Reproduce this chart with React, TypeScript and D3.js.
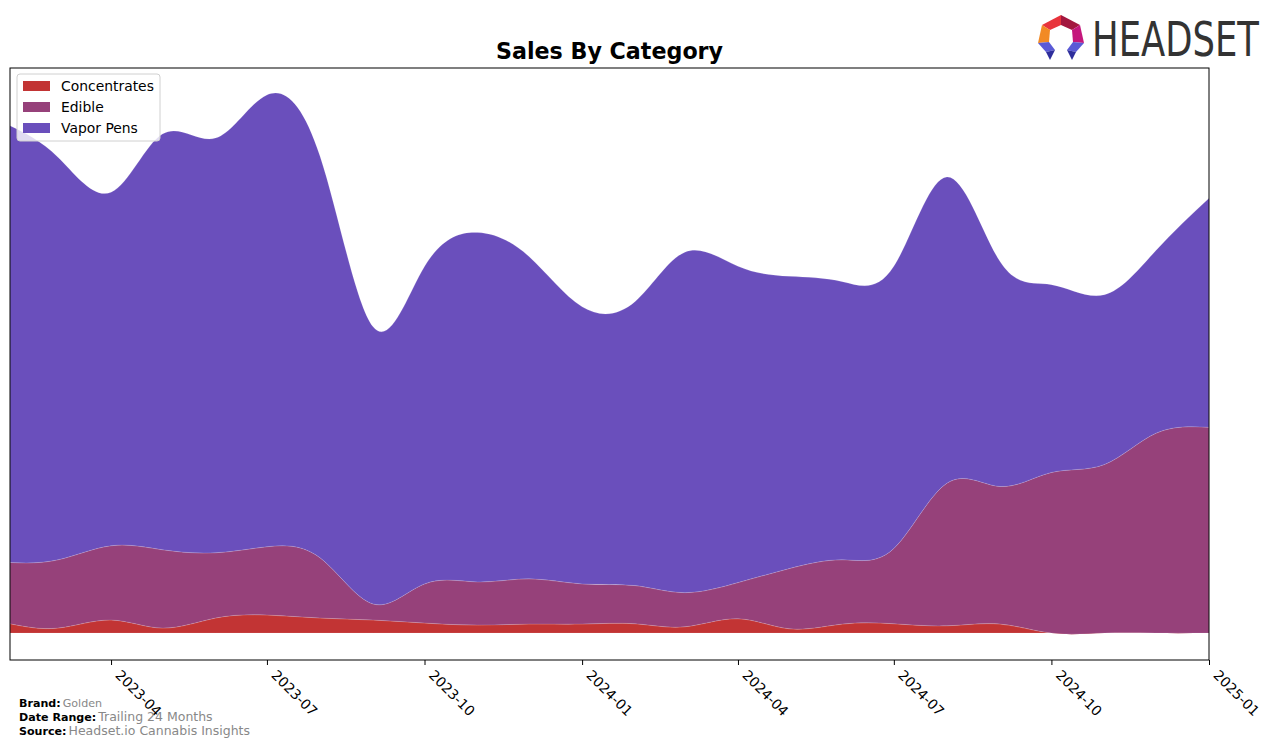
import React, { useEffect, useRef } from "react";
import * as d3 from "d3";

// monthly points, Feb 2023 .. Jan 2025
const months = [
  "2023-02", "2023-03", "2023-04", "2023-05", "2023-06", "2023-07",
  "2023-08", "2023-09", "2023-10", "2023-11", "2023-12", "2024-01",
  "2024-02", "2024-03", "2024-04", "2024-05", "2024-06", "2024-07",
  "2024-08", "2024-09", "2024-10", "2024-11", "2024-12", "2025-01",
];

const categories = ["Concentrates", "Edible", "Vapor Pens"];

const concentrates = [
  9.3, 5, 13, 5, 15, 18, 15, 13, 10, 8, 9, 9,
  9.3, 6.3, 14.3, 4.3, 9, 9.3, 7.3, 9, 0, 0, 0, 0,
];
const edible = [
  61, 68, 74, 78, 65, 68, 60, 16, 39, 43, 45, 40,
  38, 34, 36, 60, 64, 75, 142, 137, 160, 168, 199, 205,
];
const vaporPens = [
  435, 401, 352, 414, 413, 450, 400, 276, 316, 348, 321, 276,
  283, 339, 315, 291, 277, 281, 305, 224, 187, 169, 182, 228,
];

const tickLabels = [
  "2023-04", "2023-07", "2023-10", "2024-01",
  "2024-04", "2024-07", "2024-10", "2025-01",
];

const colors = ["#c23434", "#96417a", "#6a4fbc"];

const App = () => {
  const ref: any = useRef();

  const width = 1276;
  const height = 748;
  const margin = { top: 68, right: 67, bottom: 88, left: 10 };

  useEffect(() => {
    const svg = d3.select(ref.current);
    svg.selectAll("*").remove();

    const parse = d3.timeParse("%Y-%m");
    const rows = months.map((m, i) => ({
      date: parse(m) as Date,
      Concentrates: concentrates[i],
      Edible: edible[i],
      "Vapor Pens": vaporPens[i],
    }));

    const stack = d3.stack<any>().keys(categories);
    const series = stack(rows);

    const maxTotal: any = d3.max(series[series.length - 1], (d: any) => d[1]);
    const pad = maxTotal * 0.05;

    const xScale = d3
      .scaleTime()
      .domain(d3.extent(rows, (d) => d.date) as [Date, Date])
      .range([margin.left, width - margin.right]);

    const yScale = d3
      .scaleLinear()
      .domain([-pad, maxTotal + pad])
      .range([height - margin.bottom, margin.top]);

    // clip so the spline overshoot stays inside the frame
    svg
      .append("clipPath")
      .attr("id", "plot-clip")
      .append("rect")
      .attr("x", margin.left)
      .attr("y", margin.top)
      .attr("width", width - margin.left - margin.right)
      .attr("height", height - margin.top - margin.bottom);

    const area = d3
      .area<any>()
      .x((d: any) => xScale(d.data.date))
      .y0((d: any) => yScale(d[0]))
      .y1((d: any) => yScale(d[1]))
      .curve(d3.curveNatural);

    svg
      .append("g")
      .attr("clip-path", "url(#plot-clip)")
      .selectAll("path")
      .data(series)
      .join("path")
      .attr("d", area as any)
      .attr("fill", (_d, i) => colors[i])
      .attr("stroke", "rgba(255,255,255,0.2)")
      .attr("stroke-width", 0.7);

    // frame
    svg
      .append("rect")
      .attr("x", margin.left)
      .attr("y", margin.top)
      .attr("width", width - margin.left - margin.right)
      .attr("height", height - margin.top - margin.bottom)
      .attr("fill", "none")
      .attr("stroke", "#000")
      .attr("stroke-width", 1);

    // x axis
    const tickDates = tickLabels.map((t) => parse(t) as Date);
    const xAxis = d3
      .axisBottom(xScale)
      .tickValues(tickDates)
      .tickSize(5)
      .tickSizeOuter(0)
      .tickFormat(d3.timeFormat("%Y-%m") as any);

    const xAxisGroup = svg
      .append("g")
      .attr("transform", `translate(0, ${height - margin.bottom})`)
      .call(xAxis);
    xAxisGroup.select(".domain").remove();
    xAxisGroup.selectAll("line").attr("stroke", "#000");
    xAxisGroup
      .selectAll("text")
      .attr("font-family", "DejaVu Sans")
      .attr("font-size", "13.9px")
      .attr("fill", "#000")
      .attr("text-anchor", "start")
      .attr("x", 0)
      .attr("y", 0)
      .attr("dy", 0)
      .attr("transform", "translate(3, 16) rotate(45)");

    // title
    svg
      .append("text")
      .attr("x", (margin.left + width - margin.right) / 2)
      .attr("y", 59)
      .attr("text-anchor", "middle")
      .attr("font-family", "DejaVu Sans")
      .attr("font-weight", "bold")
      .attr("font-size", "22.2px")
      .text("Sales By Category");

    // legend
    const legend = svg.append("g").attr("transform", "translate(17, 74)");
    legend
      .append("rect")
      .attr("width", 143)
      .attr("height", 67)
      .attr("rx", 3)
      .attr("fill", "rgba(255,255,255,0.8)")
      .attr("stroke", "#d0d0d0");
    categories.forEach((c, i) => {
      legend
        .append("rect")
        .attr("x", 6)
        .attr("y", 7 + i * 21)
        .attr("width", 27)
        .attr("height", 10)
        .attr("fill", colors[i]);
      legend
        .append("text")
        .attr("x", 44)
        .attr("y", 17 + i * 21)
        .attr("font-family", "DejaVu Sans")
        .attr("font-size", "13.9px")
        .attr("fill", "#000")
        .text(c);
    });

    // footer
    const footer = [
      ["Brand:", "Golden", "11.1px"],
      ["Date Range:", "Trailing 24 Months", "12.5px"],
      ["Source:", "Headset.io Cannabis Insights", "12.5px"],
    ];
    footer.forEach(([label, value, size], i) => {
      const t = svg
        .append("text")
        .attr("x", 19)
        .attr("y", 707 + i * 14)
        .attr("font-family", "DejaVu Sans");
      t.append("tspan")
        .attr("font-weight", "bold")
        .attr("font-size", "11.1px")
        .attr("fill", "#000")
        .text(label);
      t.append("tspan")
        .attr("dx", 2)
        .attr("font-size", size)
        .attr("fill", "#888")
        .text(value);
    });

    // logo
    const logo = svg.append("g");
    const shapes: [string, number[][]][] = [
      ["#e8343c", [[1042, 25], [1061, 15], [1061, 25], [1050, 30]]],
      ["#a3173f", [[1061, 15], [1080, 25], [1072, 30], [1061, 25]]],
      ["#f28a24", [[1042, 25], [1050, 30], [1049, 42], [1038, 43]]],
      ["#c4177c", [[1080, 25], [1084, 43], [1073, 42], [1072, 30]]],
      ["#5a5ad6", [[1038, 43], [1049, 42], [1055, 50], [1046, 52]]],
      ["#2e2e9c", [[1046, 52], [1055, 50], [1050, 60]]],
      ["#5a5ad6", [[1084, 43], [1073, 42], [1067, 50], [1076, 52]]],
      ["#2e2e9c", [[1076, 52], [1067, 50], [1072, 60]]],
    ];
    shapes.forEach(([fill, pts]) => {
      logo
        .append("polygon")
        .attr("points", pts.map((p) => p.join(",")).join(" "))
        .attr("fill", fill);
    });
    logo
      .append("text")
      .attr("transform", "translate(1092, 56) scale(1, 1.36)")
      .attr("font-family", "DejaVu Sans")
      .attr("font-size", "35px")
      .attr("fill", "#333")
      .attr("textLength", 167)
      .attr("lengthAdjust", "spacingAndGlyphs")
      .text("HEADSET");
  }, []);

  return (
    <div style={{ position: "absolute", left: 0, top: 0 }}>
      <svg ref={ref} width={width} height={height}></svg>
    </div>
  );
};

export default App;
